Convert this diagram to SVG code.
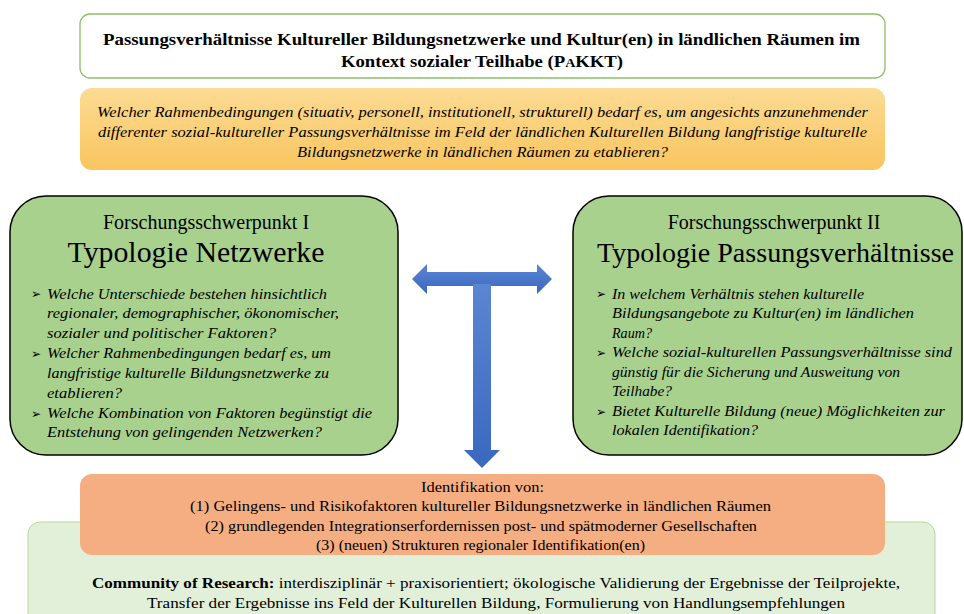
<svg xmlns="http://www.w3.org/2000/svg" width="964" height="614" viewBox="0 0 964 614">
<defs>
<linearGradient id="gOr" x1="0" y1="0" x2="0" y2="1"><stop offset="0" stop-color="#FCDB93"/><stop offset="1" stop-color="#F9C55F"/></linearGradient>
<linearGradient id="gArr" x1="0" y1="0" x2="0" y2="1"><stop offset="0" stop-color="#5A86D2"/><stop offset="1" stop-color="#3A68C0"/></linearGradient>
<style>
.t{font-family:"Liberation Serif","Times New Roman",serif;fill:#000}
.b{font-weight:bold}
.i{font-style:italic}
.c{text-anchor:middle}
.q{font-size:15px;font-style:italic}
.sq{font-size:15px}
</style>
</defs>
<rect x="0" y="0" width="964" height="614" fill="#fff"/>

<g id="title">
<rect x="80" y="14" width="805" height="64" rx="10" fill="#fff" stroke="#8DC06B" stroke-width="1.3"/>
<text class="t b" font-size="16" x="103" y="45" textLength="757" lengthAdjust="spacingAndGlyphs">Passungsverhältnisse Kultureller Bildungsnetzwerke und Kultur(en) in ländlichen Räumen im</text>
<text class="t b" font-size="16" x="341" y="67" textLength="282" lengthAdjust="spacingAndGlyphs">Kontext sozialer Teilhabe (P<tspan font-size="12">A</tspan>KKT)</text>
</g>

<g id="question">
<rect x="80" y="88" width="805" height="82" rx="12" fill="url(#gOr)"/>
<text class="t q" x="97" y="117" textLength="771" lengthAdjust="spacingAndGlyphs">Welcher Rahmenbedingungen (situativ, personell, institutionell, strukturell) bedarf es, um angesichts anzunehmender</text>
<text class="t q" x="98" y="137" textLength="769" lengthAdjust="spacingAndGlyphs">differenter sozial-kultureller Passungsverhältnisse im Feld der ländlichen Kulturellen Bildung langfristige kulturelle</text>
<text class="t q" x="297" y="157" textLength="371" lengthAdjust="spacingAndGlyphs">Bildungsnetzwerke in ländlichen Räumen zu etablieren?</text>
</g>

<g id="fs1">
<rect x="10" y="196" width="388" height="259" rx="36" fill="#A9D18E" stroke="#000" stroke-width="1.5"/>
<text class="t c" font-size="20" x="206" y="229">Forschungsschwerpunkt I</text>
<text class="t c" font-size="29" x="196" y="262" textLength="257" lengthAdjust="spacingAndGlyphs">Typologie Netzwerke</text>
<g class="t sq">
<text x="31" y="298" font-size="12">➢</text>
<text x="31" y="358" font-size="12">➢</text>
<text x="31" y="418" font-size="12">➢</text>
</g>
<g class="t q">
<text x="47" y="299" textLength="280" lengthAdjust="spacingAndGlyphs">Welche Unterschiede bestehen hinsichtlich</text>
<text x="47" y="318" textLength="292" lengthAdjust="spacingAndGlyphs">regionaler, demographischer, ökonomischer,</text>
<text x="47" y="338" textLength="229" lengthAdjust="spacingAndGlyphs">sozialer und politischer Faktoren?</text>
<text x="47" y="358" textLength="284" lengthAdjust="spacingAndGlyphs">Welcher Rahmenbedingungen bedarf es, um</text>
<text x="47" y="378" textLength="282" lengthAdjust="spacingAndGlyphs">langfristige kulturelle Bildungsnetzwerke zu</text>
<text x="47" y="398" textLength="75" lengthAdjust="spacingAndGlyphs">etablieren?</text>
<text x="47" y="418" textLength="325" lengthAdjust="spacingAndGlyphs">Welche Kombination von Faktoren begünstigt die</text>
<text x="47" y="437" textLength="275" lengthAdjust="spacingAndGlyphs">Entstehung von gelingenden Netzwerken?</text>
</g>
</g>

<g id="fs2">
<rect x="573" y="196" width="389" height="259" rx="36" fill="#A9D18E" stroke="#000" stroke-width="1.5"/>
<text class="t c" font-size="20" x="774" y="229">Forschungsschwerpunkt II</text>
<text class="t" font-size="27" x="597" y="262" textLength="357" lengthAdjust="spacingAndGlyphs">Typologie Passungsverhältnisse</text>
<g class="t sq">
<text x="596" y="298" font-size="12">➢</text>
<text x="596" y="357" font-size="12">➢</text>
<text x="596" y="416" font-size="12">➢</text>
</g>
<g class="t q">
<text x="612" y="299" textLength="252" lengthAdjust="spacingAndGlyphs">In welchem Verhältnis stehen kulturelle</text>
<text x="612" y="318" textLength="302" lengthAdjust="spacingAndGlyphs">Bildungsangebote zu Kultur(en) im ländlichen</text>
<text x="612" y="338" textLength="40" lengthAdjust="spacingAndGlyphs">Raum?</text>
<text x="612" y="357" textLength="340" lengthAdjust="spacingAndGlyphs">Welche sozial-kulturellen Passungsverhältnisse sind</text>
<text x="612" y="377" textLength="288" lengthAdjust="spacingAndGlyphs">günstig für die Sicherung und Ausweitung von</text>
<text x="612" y="396" textLength="60" lengthAdjust="spacingAndGlyphs">Teilhabe?</text>
<text x="612" y="416" textLength="333" lengthAdjust="spacingAndGlyphs">Bietet Kulturelle Bildung (neue) Möglichkeiten zur</text>
<text x="612" y="435" textLength="146" lengthAdjust="spacingAndGlyphs">lokalen Identifikation?</text>
</g>
</g>

<g id="connectors">
<path d="M412,279 L427,264 L427,272 L537,272 L537,264 L552,279 L537,294 L537,286 L427,286 L427,294 Z" fill="url(#gArr)"/>
<path d="M473,284 L491,284 L491,450 L500,450 L482,468 L464,450 L473,450 Z" fill="url(#gArr)"/>
</g>

<g id="community">
<rect x="28" y="522" width="907" height="110" rx="12" fill="#E2F0D9" stroke="#B5D99C" stroke-width="1"/>
<text class="t" font-size="14" x="92" y="588" textLength="808" lengthAdjust="spacingAndGlyphs"><tspan font-weight="bold">Community of Research:</tspan> interdisziplinär + praxisorientiert; ökologische Validierung der Ergebnisse der Teilprojekte,</text>
<text class="t" font-size="14" x="147" y="608" textLength="698" lengthAdjust="spacingAndGlyphs">Transfer der Ergebnisse ins Feld der Kulturellen Bildung, Formulierung von Handlungsempfehlungen</text>
</g>

<g id="identifikation">
<rect x="80" y="474" width="805" height="81" rx="12" fill="#F4AE82"/>
<text class="t" font-size="15" x="421" y="492" textLength="123" lengthAdjust="spacingAndGlyphs">Identifikation von:</text>
<text class="t" font-size="15" x="190" y="511" textLength="581" lengthAdjust="spacingAndGlyphs">(1) Gelingens- und Risikofaktoren kultureller Bildungsnetzwerke in ländlichen Räumen</text>
<text class="t" font-size="15" x="205" y="531" textLength="552" lengthAdjust="spacingAndGlyphs">(2) grundlegenden Integrationserfordernissen post- und spätmoderner Gesellschaften</text>
<text class="t" font-size="15" x="316" y="550" textLength="329" lengthAdjust="spacingAndGlyphs">(3) (neuen) Strukturen regionaler Identifikation(en)</text>
</g>
</svg>
